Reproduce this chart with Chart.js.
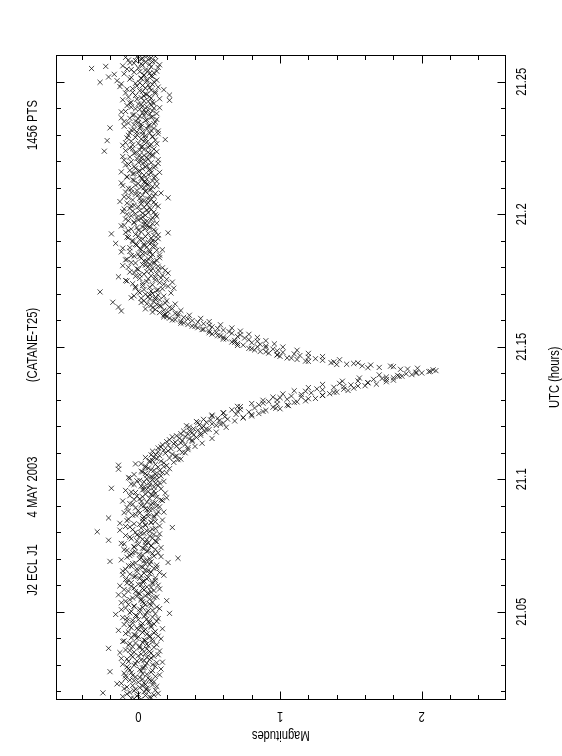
<!DOCTYPE html>
<html>
<head>
<meta charset="utf-8">
<script src="https://cdn.jsdelivr.net/npm/chart.js@4/dist/chart.umd.min.js"></script>
<style>
  html, body { margin: 0; padding: 0; background: #fff; }
  #wrap { width: 562px; height: 756px; }
</style>
</head>
<body>
<div id="wrap"><canvas id="lc" width="562" height="756"></canvas></div>
<script>
// light curve, plotted page-rotated: magnitude runs left->right, UTC runs bottom->top
const titleParts = ['J2 ECL J1', '4 MAY 2003', '(CATANE-T25)', '1456 PTS'];
const utcAxisTitle = 'UTC (hours)';
const magAxisTitle = 'Magnitudes';

const utcMajor = [21.05, 21.1, 21.15, 21.2, 21.25];
const utcLabels = ['21.05', '21.1', '21.15', '21.2', '21.25'];
const utcMinor = [21.02, 21.03, 21.04, 21.06, 21.07, 21.08, 21.09, 21.11, 21.12, 21.13,
                  21.14, 21.16, 21.17, 21.18, 21.19, 21.21, 21.22, 21.23, 21.24, 21.26];
const magMajor = [0, 1, 2];
const magLabels = ['0', '1', '2'];
const magMinor = [-0.4, -0.2, 0.2, 0.4, 0.6, 0.8, 1.2, 1.4, 1.6, 1.8, 2.2, 2.4];

const UTC_MIN = 21.0169, UTC_MAX = 21.2601;
const MAG_MIN = -0.581, MAG_MAX = 2.591;

// out of eclipse, before
const utcPre = [
  21.0170, 21.0174, 21.0178, 21.0182, 21.0186, 21.0190, 21.0194, 21.0198, 21.0202, 21.0206,
  21.0210, 21.0214, 21.0218, 21.0222, 21.0226, 21.0230, 21.0234, 21.0238, 21.0242, 21.0246,
  21.0250, 21.0254, 21.0258, 21.0262, 21.0266, 21.0270, 21.0274, 21.0278, 21.0282, 21.0286,
  21.0290, 21.0294, 21.0298, 21.0302, 21.0306, 21.0310, 21.0314, 21.0318, 21.0322, 21.0326,
  21.0330, 21.0334, 21.0338, 21.0342, 21.0346, 21.0350, 21.0354, 21.0358, 21.0362, 21.0366,
  21.0370, 21.0374, 21.0378, 21.0382, 21.0386, 21.0390, 21.0394, 21.0398, 21.0402, 21.0406,
  21.0410, 21.0414, 21.0418, 21.0422, 21.0426, 21.0430, 21.0434, 21.0438, 21.0442, 21.0446,
  21.0450, 21.0454, 21.0458, 21.0462, 21.0466, 21.0470, 21.0474, 21.0478, 21.0482, 21.0486,
  21.0490, 21.0494, 21.0498, 21.0502, 21.0506, 21.0510, 21.0514, 21.0518, 21.0522, 21.0526,
  21.0530, 21.0534, 21.0538, 21.0542, 21.0546, 21.0550, 21.0554, 21.0558, 21.0562, 21.0566,
  21.0570, 21.0574, 21.0578, 21.0582, 21.0586, 21.0590, 21.0594, 21.0598, 21.0602, 21.0606,
  21.0610, 21.0614, 21.0618, 21.0622, 21.0626, 21.0630, 21.0634, 21.0638, 21.0642, 21.0646,
  21.0650, 21.0654, 21.0658, 21.0662, 21.0666, 21.0670, 21.0674, 21.0678, 21.0682, 21.0686,
  21.0690, 21.0694, 21.0698, 21.0702, 21.0706, 21.0710, 21.0714, 21.0718, 21.0722, 21.0726,
  21.0730, 21.0734, 21.0738, 21.0742, 21.0746, 21.0750, 21.0754, 21.0758, 21.0762, 21.0766,
  21.0770, 21.0774, 21.0778, 21.0782, 21.0786, 21.0790, 21.0794, 21.0798, 21.0802, 21.0806,
  21.0810, 21.0814, 21.0818, 21.0822, 21.0826, 21.0830, 21.0834, 21.0838, 21.0842, 21.0846,
  21.0850, 21.0854, 21.0858, 21.0862, 21.0866, 21.0870, 21.0874, 21.0878, 21.0882, 21.0886,
  21.0890, 21.0894, 21.0898, 21.0902, 21.0906, 21.0910, 21.0914, 21.0918, 21.0922, 21.0926,
  21.0930, 21.0934, 21.0938, 21.0942, 21.0946, 21.0950, 21.0954, 21.0958, 21.0962, 21.0966,
  21.0970, 21.0974, 21.0978, 21.0982, 21.0986, 21.0990, 21.0994, 21.0998, 21.1002, 21.1006,
  21.1010, 21.1014, 21.1018, 21.1022, 21.1026, 21.1030, 21.1034, 21.1038, 21.1042, 21.1046
];
const magPre = [
  0.02, -0.05, 0.08, -0.01, 0.11, -0.08, -0.25, 0.04, -0.03, 0.06,
  -0.10, 0.01, 0.13, -0.04, 0.05, -0.12, 0.00, 0.09, -0.06, 0.03,
  0.07, -0.02, -0.09, 0.15, 0.03, -0.05, -0.20, 0.10, 0.01, -0.07,
  0.04, 0.12, -0.03, -0.11, 0.06, 0.17, -0.01, 0.02, -0.08, 0.09,
  -0.04, 0.00, 0.14, 0.05, -0.13, 0.08, -0.06, 0.03, -0.21, 0.11,
  0.01, -0.07, 0.06, -0.02, 0.10, -0.10, 0.04, 0.16, -0.05, 0.00,
  0.08, -0.03, -0.09, 0.03, 0.12, -0.14, 0.05, -0.01, 0.09, -0.06,
  0.02, 0.11, -0.04, 0.07, -0.08, 0.00, 0.14, -0.11, 0.04, -0.02,
  -0.16, 0.22, 0.06, -0.05, 0.10, 0.01, -0.09, 0.13, -0.03, 0.05,
  0.08, -0.12, 0.03, 0.20, -0.06, 0.02, 0.11, -0.01, -0.10, 0.07,
  0.00, 0.09, -0.07, 0.04, 0.15, -0.03, 0.06, -0.13, 0.02, 0.10,
  -0.05, 0.03, 0.12, -0.09, 0.01, 0.07, -0.02, 0.18, -0.06, 0.04,
  0.09, -0.11, 0.05, -0.01, 0.13, 0.02, -0.07, 0.08, -0.04, 0.21,
  -0.20, 0.06, 0.01, 0.28, -0.08, 0.11, 0.03, -0.05, 0.14, -0.02,
  0.07, -0.10, 0.04, 0.16, -0.03, 0.09, 0.00, -0.12, 0.05, 0.12,
  -0.21, 0.03, 0.10, -0.06, 0.08, -0.01, 0.15, 0.02, -0.29, 0.06,
  -0.04, 0.12, 0.24, -0.09, 0.05, 0.01, -0.13, 0.09, 0.03, 0.17,
  -0.07, -0.21, 0.04, 0.11, -0.02, 0.07, -0.10, 0.14, 0.00, 0.08,
  0.05, -0.08, 0.13, 0.02, -0.04, 0.10, 0.06, -0.11, 0.16, 0.01,
  0.20, 0.03, -0.06, 0.09, 0.12, -0.02, 0.07, -0.09, 0.04, -0.19,
  0.11, 0.02, 0.08, -0.05, 0.15, 0.04, -0.01, 0.10, 0.06, -0.07,
  0.09, 0.13, -0.03, 0.05, 0.17, 0.02, 0.11, -0.14, 0.07, 0.14
];
const utcPre2 = [
  21.0172, 21.0176, 21.0180, 21.0184, 21.0188, 21.0192, 21.0196, 21.0200, 21.0204, 21.0208,
  21.0212, 21.0216, 21.0220, 21.0224, 21.0228, 21.0232, 21.0236, 21.0240, 21.0244, 21.0248,
  21.0252, 21.0256, 21.0260, 21.0264, 21.0268, 21.0272, 21.0276, 21.0280, 21.0284, 21.0288,
  21.0292, 21.0296, 21.0300, 21.0304, 21.0308, 21.0312, 21.0316, 21.0320, 21.0324, 21.0328,
  21.0332, 21.0336, 21.0340, 21.0344, 21.0348, 21.0352, 21.0356, 21.0360, 21.0364, 21.0368,
  21.0372, 21.0376, 21.0380, 21.0384, 21.0388, 21.0392, 21.0396, 21.0400, 21.0404, 21.0408,
  21.0412, 21.0416, 21.0420, 21.0424, 21.0428, 21.0432, 21.0436, 21.0440, 21.0444, 21.0448,
  21.0452, 21.0456, 21.0460, 21.0464, 21.0468, 21.0472, 21.0476, 21.0480, 21.0484, 21.0488,
  21.0492, 21.0496, 21.0500, 21.0504, 21.0508, 21.0512, 21.0516, 21.0520, 21.0524, 21.0528,
  21.0532, 21.0536, 21.0540, 21.0544, 21.0548, 21.0552, 21.0556, 21.0560, 21.0564, 21.0568,
  21.0572, 21.0576, 21.0580, 21.0584, 21.0588, 21.0592, 21.0596, 21.0600, 21.0604, 21.0608,
  21.0612, 21.0616, 21.0620, 21.0624, 21.0628, 21.0632, 21.0636, 21.0640, 21.0644, 21.0648,
  21.0652, 21.0656, 21.0660, 21.0664, 21.0668, 21.0672, 21.0676, 21.0680, 21.0684, 21.0688,
  21.0692, 21.0696, 21.0700, 21.0704, 21.0708, 21.0712, 21.0716, 21.0720, 21.0724, 21.0728,
  21.0732, 21.0736, 21.0740, 21.0744, 21.0748, 21.0752, 21.0756, 21.0760, 21.0764, 21.0768,
  21.0772, 21.0776, 21.0780, 21.0784, 21.0788, 21.0792, 21.0796, 21.0800, 21.0804, 21.0808,
  21.0812, 21.0816, 21.0820, 21.0824, 21.0828, 21.0832, 21.0836, 21.0840, 21.0844, 21.0848,
  21.0852, 21.0856, 21.0860, 21.0864, 21.0868, 21.0872, 21.0876, 21.0880, 21.0884, 21.0888,
  21.0892, 21.0896, 21.0900, 21.0904, 21.0908, 21.0912, 21.0916, 21.0920, 21.0924, 21.0928,
  21.0932, 21.0936, 21.0940, 21.0944, 21.0948, 21.0952, 21.0956, 21.0960, 21.0964, 21.0968,
  21.0972, 21.0976, 21.0980, 21.0984, 21.0988, 21.0992, 21.0996, 21.1000, 21.1004, 21.1008,
  21.1012, 21.1016, 21.1020, 21.1024, 21.1028, 21.1032, 21.1036, 21.1040, 21.1044, 21.1048
];
const magPre2 = [
  -0.03, 0.09, -0.11, 0.05, 0.00, 0.14, -0.06, 0.07, 0.12, -0.02,
  0.06, -0.08, 0.03, 0.10, -0.15, 0.04, 0.11, -0.03, 0.08, -0.09,
  0.01, 0.12, -0.04, 0.06, -0.10, 0.09, 0.02, -0.06, 0.16, 0.03,
  -0.08, 0.05, 0.10, -0.02, 0.13, -0.07, 0.04, 0.08, -0.12, 0.06,
  0.11, -0.05, 0.02, 0.09, -0.03, 0.15, -0.09, 0.06, 0.01, -0.04,
  0.07, 0.13, -0.06, 0.03, -0.11, 0.05, 0.10, -0.01, 0.08, 0.14,
  -0.02, 0.06, 0.11, -0.07, 0.04, 0.00, 0.17, -0.05, 0.02, 0.09,
  -0.10, 0.03, 0.08, 0.13, -0.04, 0.06, -0.08, 0.10, -0.01, 0.05,
  0.12, -0.06, 0.01, 0.07, -0.12, 0.15, 0.03, -0.03, 0.09, -0.07,
  0.04, 0.10, -0.09, 0.02, 0.08, -0.04, 0.13, 0.05, -0.14, 0.01,
  0.07, -0.02, 0.11, -0.10, 0.03, 0.09, -0.05, 0.14, 0.00, -0.08,
  0.10, 0.04, -0.07, 0.06, 0.12, -0.03, 0.02, -0.11, 0.08, 0.15,
  -0.01, 0.07, -0.09, 0.11, 0.03, -0.05, 0.13, 0.05, -0.02, 0.09,
  0.04, -0.12, 0.08, 0.02, 0.16, -0.06, 0.01, 0.10, -0.04, 0.06,
  -0.08, 0.12, 0.03, -0.03, 0.09, 0.05, -0.10, 0.07, 0.13, -0.01,
  0.06, -0.05, 0.14, 0.01, -0.09, 0.11, 0.04, -0.02, 0.08, -0.13,
  0.10, 0.02, -0.06, 0.15, 0.05, -0.03, 0.09, 0.12, -0.08, 0.04,
  0.03, 0.11, 0.07, -0.04, 0.13, 0.01, 0.18, -0.07, 0.06, 0.10,
  -0.02, 0.15, 0.04, 0.09, -0.06, 0.12, 0.02, 0.17, -0.03, 0.08,
  0.13, -0.01, 0.10, 0.05, 0.19, -0.05, 0.11, 0.03, 0.16, 0.07,
  0.04, 0.14, -0.03, 0.12, 0.08, 0.18, 0.01, 0.13, -0.06, 0.10,
  0.16, 0.06, 0.12, 0.20, 0.03, 0.15, 0.09, 0.22, 0.05, 0.18
];

// ingress
const utcIngress = [
  21.1050, 21.1053, 21.1056, 21.1059, 21.1062, 21.1065, 21.1068, 21.1071, 21.1074, 21.1077,
  21.1080, 21.1083, 21.1086, 21.1089, 21.1092, 21.1095, 21.1098, 21.1101, 21.1104, 21.1107,
  21.1110, 21.1113, 21.1116, 21.1119, 21.1122, 21.1125, 21.1128, 21.1131, 21.1134, 21.1137,
  21.1140, 21.1143, 21.1146, 21.1149, 21.1152, 21.1155, 21.1158, 21.1161, 21.1164, 21.1167,
  21.1170, 21.1173, 21.1176, 21.1179, 21.1182, 21.1185, 21.1188, 21.1191, 21.1194, 21.1197,
  21.1200, 21.1203, 21.1206, 21.1209, 21.1212, 21.1215, 21.1218, 21.1221, 21.1224, 21.1227,
  21.1230, 21.1233, 21.1236, 21.1239, 21.1242, 21.1245, 21.1248, 21.1251, 21.1254, 21.1257,
  21.1260, 21.1263, 21.1266, 21.1269, 21.1272, 21.1275, 21.1278, 21.1281, 21.1284, 21.1287,
  21.1290, 21.1293, 21.1296, 21.1299, 21.1302, 21.1305, 21.1308, 21.1311, 21.1314, 21.1317,
  21.1320, 21.1323, 21.1326, 21.1329, 21.1332, 21.1335, 21.1338, 21.1341, 21.1344, 21.1347,
  21.1350, 21.1353, 21.1356, 21.1359, 21.1362, 21.1365, 21.1368, 21.1371, 21.1374, 21.1377,
  21.1380, 21.1383, 21.1386, 21.1389, 21.1392, 21.1395, 21.1398, 21.1401, 21.1404, 21.1407,
  21.1410
];
const magIngress = [
  0.05, -0.14, 0.12, 0.02, 0.18, 0.08, 0.16, 0.10, 0.28, 0.13,
  0.22, 0.11, 0.26, 0.15, 0.09, 0.24, 0.19, 0.31, 0.14, 0.21,
  0.18, 0.29, 0.23, 0.35, 0.16, 0.27, 0.21, 0.33, 0.25, 0.30,
  0.26, 0.38, 0.31, 0.22, 0.36, 0.29, 0.41, 0.33, 0.27, 0.39,
  0.35, 0.44, 0.38, 0.47, 0.32, 0.42, 0.50, 0.39, 0.45, 0.36,
  0.46, 0.55, 0.43, 0.52, 0.60, 0.48, 0.41, 0.57, 0.51, 0.63,
  0.56, 0.74, 0.61, 0.80, 0.52, 0.69, 0.85, 0.60, 0.78, 0.70,
  0.90, 0.72, 1.00, 0.82, 0.95, 0.70, 1.06, 0.85, 0.98, 0.88,
  1.10, 0.92, 1.18, 0.98, 1.05, 1.25, 1.00, 1.15, 1.08, 1.30,
  1.15, 1.35, 1.22, 1.40, 1.18, 1.48, 1.30, 1.26, 1.52, 1.38,
  1.45, 1.60, 1.50, 1.68, 1.42, 1.62, 1.75, 1.55, 1.80, 1.66,
  1.72, 1.80, 1.75, 1.86, 1.83, 1.93, 1.89, 2.00, 1.96, 2.06,
  2.10
];
const utcIngress2 = [
  21.1052, 21.1058, 21.1064, 21.1070, 21.1076, 21.1082, 21.1088, 21.1094, 21.1100, 21.1106,
  21.1112, 21.1118, 21.1124, 21.1130, 21.1136, 21.1142, 21.1148, 21.1154, 21.1160, 21.1166,
  21.1172, 21.1178, 21.1184, 21.1190, 21.1196, 21.1202, 21.1208, 21.1214, 21.1220, 21.1226,
  21.1232, 21.1238, 21.1244, 21.1250, 21.1256, 21.1262, 21.1268, 21.1274, 21.1280, 21.1286,
  21.1292, 21.1298, 21.1304, 21.1310, 21.1316, 21.1322, 21.1328, 21.1334, 21.1340, 21.1346,
  21.1352, 21.1358, 21.1364, 21.1370, 21.1376, 21.1382, 21.1388, 21.1394, 21.1400, 21.1406
];
const magIngress2 = [
  0.20, -0.02, 0.25, 0.08, 0.30, 0.05, 0.27, 0.12, 0.33, 0.10,
  0.35, 0.14, 0.40, 0.17, 0.45, 0.20, 0.38, 0.52, 0.24, 0.44,
  0.30, 0.55, 0.36, 0.48, 0.62, 0.34, 0.58, 0.42, 0.68, 0.46,
  0.74, 0.52, 0.80, 0.60, 0.88, 0.66, 0.97, 0.72, 1.05, 0.80,
  1.12, 0.88, 1.20, 0.95, 1.30, 1.02, 1.38, 1.10, 1.45, 1.20,
  1.55, 1.30, 1.62, 1.44, 1.75, 1.56, 1.84, 1.70, 1.96, 2.05
];

// egress
const utcEgress = [
  21.1413, 21.1416, 21.1419, 21.1422, 21.1425, 21.1428, 21.1431, 21.1434, 21.1437, 21.1440,
  21.1443, 21.1446, 21.1449, 21.1452, 21.1455, 21.1458, 21.1461, 21.1464, 21.1467, 21.1470,
  21.1473, 21.1476, 21.1479, 21.1482, 21.1485, 21.1488, 21.1491, 21.1494, 21.1497, 21.1500,
  21.1503, 21.1506, 21.1509, 21.1512, 21.1515, 21.1518, 21.1521, 21.1524, 21.1527, 21.1530,
  21.1533, 21.1536, 21.1539, 21.1542, 21.1545, 21.1548, 21.1551, 21.1554, 21.1557, 21.1560,
  21.1563, 21.1566, 21.1569, 21.1572, 21.1575, 21.1578, 21.1581, 21.1584, 21.1587, 21.1590,
  21.1593, 21.1596, 21.1599, 21.1602, 21.1605, 21.1608, 21.1611, 21.1614, 21.1617, 21.1620,
  21.1623, 21.1626, 21.1629, 21.1632, 21.1635, 21.1638, 21.1641, 21.1644, 21.1647, 21.1650,
  21.1653, 21.1656, 21.1659, 21.1662, 21.1665, 21.1668, 21.1671, 21.1674, 21.1677, 21.1680,
  21.1683, 21.1686, 21.1689, 21.1692, 21.1695, 21.1698, 21.1701, 21.1704, 21.1707, 21.1710,
  21.1713, 21.1716, 21.1719, 21.1722, 21.1725, 21.1728, 21.1731
];
const magEgress = [
  2.08, 1.90, 1.97, 1.70, 1.80, 1.58, 1.64, 1.47, 1.52, 1.36,
  1.38, 1.18, 1.30, 1.12, 1.25, 1.05, 1.20, 1.00, 1.14, 0.98,
  1.10, 0.92, 1.02, 0.86, 0.98, 0.82, 0.95, 0.78, 0.90, 0.84,
  0.90, 0.74, 0.86, 0.70, 0.80, 0.66, 0.84, 0.68, 0.78, 0.62,
  0.75, 0.60, 0.70, 0.56, 0.72, 0.52, 0.66, 0.55, 0.64, 0.50,
  0.60, 0.46, 0.56, 0.42, 0.52, 0.38, 0.50, 0.35, 0.46, 0.32,
  0.42, 0.30, 0.38, 0.26, 0.35, 0.22, 0.32, 0.20, 0.28, 0.18,
  0.19, 0.26, 0.15, 0.21, -0.12, 0.18, 0.12, 0.24, 0.10, -0.14,
  0.16, 0.09, 0.13, 0.06, 0.19, -0.18, 0.11, 0.04, 0.15, 0.08,
  0.02, 0.12, 0.07, -0.03, 0.14, 0.05, 0.10, 0.01, -0.27, 0.09,
  0.13, 0.04, 0.17, -0.02, 0.08, 0.21, 0.03
];
const utcEgress2 = [
  21.1415, 21.1421, 21.1427, 21.1433, 21.1439, 21.1445, 21.1451, 21.1457, 21.1463, 21.1469,
  21.1475, 21.1481, 21.1487, 21.1493, 21.1499, 21.1505, 21.1511, 21.1517, 21.1523, 21.1529,
  21.1535, 21.1541, 21.1547, 21.1553, 21.1559, 21.1565, 21.1571, 21.1577, 21.1583, 21.1589,
  21.1595, 21.1601, 21.1607, 21.1613, 21.1619, 21.1625, 21.1631, 21.1637, 21.1643, 21.1649,
  21.1655, 21.1661, 21.1667, 21.1673, 21.1679, 21.1685, 21.1691, 21.1697, 21.1703, 21.1709,
  21.1715, 21.1721, 21.1727
];
const magEgress2 = [
  1.85, 1.62, 1.78, 1.40, 1.55, 1.20, 1.42, 1.08, 1.30, 0.98,
  1.20, 0.90, 1.12, 0.80, 1.02, 0.70, 0.96, 0.68, 0.90, 0.60,
  0.84, 0.58, 0.78, 0.50, 0.72, 0.45, 0.66, 0.40, 0.58, 0.30,
  0.50, 0.24, 0.44, 0.18, 0.36, 0.28, 0.10, 0.30, 0.05, 0.22,
  0.15, 0.26, 0.02, 0.20, 0.12, -0.05, 0.18, 0.08, 0.23, 0.00,
  0.14, 0.25, -0.02
];

// out of eclipse, after
const utcPost = [
  21.1734, 21.1738, 21.1742, 21.1746, 21.1750, 21.1754, 21.1758, 21.1762, 21.1766, 21.1770,
  21.1774, 21.1778, 21.1782, 21.1786, 21.1790, 21.1794, 21.1798, 21.1802, 21.1806, 21.1810,
  21.1814, 21.1818, 21.1822, 21.1826, 21.1830, 21.1834, 21.1838, 21.1842, 21.1846, 21.1850,
  21.1854, 21.1858, 21.1862, 21.1866, 21.1870, 21.1874, 21.1878, 21.1882, 21.1886, 21.1890,
  21.1894, 21.1898, 21.1902, 21.1906, 21.1910, 21.1914, 21.1918, 21.1922, 21.1926, 21.1930,
  21.1934, 21.1938, 21.1942, 21.1946, 21.1950, 21.1954, 21.1958, 21.1962, 21.1966, 21.1970,
  21.1974, 21.1978, 21.1982, 21.1986, 21.1990, 21.1994, 21.1998, 21.2002, 21.2006, 21.2010,
  21.2014, 21.2018, 21.2022, 21.2026, 21.2030, 21.2034, 21.2038, 21.2042, 21.2046, 21.2050,
  21.2054, 21.2058, 21.2062, 21.2066, 21.2070, 21.2074, 21.2078, 21.2082, 21.2086, 21.2090,
  21.2094, 21.2098, 21.2102, 21.2106, 21.2110, 21.2114, 21.2118, 21.2122, 21.2126, 21.2130,
  21.2134, 21.2138, 21.2142, 21.2146, 21.2150, 21.2154, 21.2158, 21.2162, 21.2166, 21.2170,
  21.2174, 21.2178, 21.2182, 21.2186, 21.2190, 21.2194, 21.2198, 21.2202, 21.2206, 21.2210,
  21.2214, 21.2218, 21.2222, 21.2226, 21.2230, 21.2234, 21.2238, 21.2242, 21.2246, 21.2250,
  21.2254, 21.2258, 21.2262, 21.2266, 21.2270, 21.2274, 21.2278, 21.2282, 21.2286, 21.2290,
  21.2294, 21.2298, 21.2302, 21.2306, 21.2310, 21.2314, 21.2318, 21.2322, 21.2326, 21.2330,
  21.2334, 21.2338, 21.2342, 21.2346, 21.2350, 21.2354, 21.2358, 21.2362, 21.2366, 21.2370,
  21.2374, 21.2378, 21.2382, 21.2386, 21.2390, 21.2394, 21.2398, 21.2402, 21.2406, 21.2410,
  21.2414, 21.2418, 21.2422, 21.2426, 21.2430, 21.2434, 21.2438, 21.2442, 21.2446, 21.2450,
  21.2454, 21.2458, 21.2462, 21.2466, 21.2470, 21.2474, 21.2478, 21.2482, 21.2486, 21.2490,
  21.2494, 21.2498, 21.2502, 21.2506, 21.2510, 21.2514, 21.2518, 21.2522, 21.2526, 21.2530,
  21.2534, 21.2538, 21.2542, 21.2546, 21.2550, 21.2554, 21.2558, 21.2562, 21.2566, 21.2570,
  21.2574, 21.2578, 21.2582, 21.2586, 21.2590, 21.2594, 21.2598
];
const magPost = [
  0.10, -0.04, 0.15, 0.06, -0.09, 0.20, 0.01, 0.12, -0.02, 0.17,
  0.04, 0.21, -0.06, 0.09, 0.14, -0.01, 0.17, 0.07, -0.11, 0.03,
  0.11, -0.05, 0.06, 0.13, -0.08, 0.02, 0.09, -0.03, 0.15, 0.00,
  0.05, -0.12, 0.08, 0.17, 0.01, -0.06, 0.10, 0.04, -0.02, -0.16,
  0.07, 0.12, -0.04, 0.03, 0.09, -0.08, 0.00, 0.14, -0.19, 0.21,
  0.02, -0.07, 0.11, 0.05, -0.01, 0.08, -0.10, 0.04, 0.13, -0.03,
  0.06, 0.00, -0.09, 0.10, 0.03, -0.05, 0.12, -0.02, 0.07, -0.11,
  0.01, 0.09, -0.06, 0.04, 0.14, -0.03, 0.06, -0.08, 0.11, 0.02,
  -0.04, 0.07, 0.21, -0.10, 0.08, 0.00, 0.12, -0.05, 0.05, -0.01,
  0.09, -0.07, 0.02, 0.13, -0.02, 0.06, -0.12, 0.04, 0.10, -0.04,
  0.03, 0.11, -0.08, 0.01, 0.07, -0.03, 0.15, 0.00, -0.06, 0.08,
  -0.02, 0.05, 0.12, -0.09, 0.03, 0.09, -0.05, 0.02, 0.14, -0.01,
  0.06, -0.11, 0.04, 0.10, -0.03, 0.07, -0.24, 0.01, 0.11, -0.06,
  0.02, 0.08, -0.04, 0.13, -0.09, 0.04, -0.22, 0.19, 0.05, -0.02,
  0.10, -0.07, 0.03, 0.08, -0.01, 0.14, -0.05, 0.06, -0.20, 0.02,
  0.07, -0.03, 0.11, 0.00, -0.10, 0.05, 0.13, -0.06, 0.09, 0.01,
  -0.04, 0.08, 0.03, -0.12, 0.10, 0.04, -0.02, 0.15, 0.06, -0.08,
  0.02, 0.11, -0.05, 0.07, 0.22, -0.01, 0.09, -0.07, 0.04, 0.22,
  0.05, -0.09, 0.12, 0.01, 0.18, -0.04, 0.08, -0.13, 0.03, 0.10,
  -0.02, -0.27, 0.06, 0.13, -0.06, 0.02, -0.21, 0.09, 0.04, -0.10,
  0.11, 0.01, 0.07, -0.05, -0.33, 0.14, -0.23, 0.03, 0.08, -0.03,
  0.05, 0.12, -0.07, 0.02, 0.09, -0.01, 0.06
];
const utcPost2 = [
  21.1736, 21.1740, 21.1744, 21.1748, 21.1752, 21.1756, 21.1760, 21.1764, 21.1768, 21.1772,
  21.1776, 21.1780, 21.1784, 21.1788, 21.1792, 21.1796, 21.1800, 21.1804, 21.1808, 21.1812,
  21.1816, 21.1820, 21.1824, 21.1828, 21.1832, 21.1836, 21.1840, 21.1844, 21.1848, 21.1852,
  21.1856, 21.1860, 21.1864, 21.1868, 21.1872, 21.1876, 21.1880, 21.1884, 21.1888, 21.1892,
  21.1896, 21.1900, 21.1904, 21.1908, 21.1912, 21.1916, 21.1920, 21.1924, 21.1928, 21.1932,
  21.1936, 21.1940, 21.1944, 21.1948, 21.1952, 21.1956, 21.1960, 21.1964, 21.1968, 21.1972,
  21.1976, 21.1980, 21.1984, 21.1988, 21.1992, 21.1996, 21.2000, 21.2004, 21.2008, 21.2012,
  21.2016, 21.2020, 21.2024, 21.2028, 21.2032, 21.2036, 21.2040, 21.2044, 21.2048, 21.2052,
  21.2056, 21.2060, 21.2064, 21.2068, 21.2072, 21.2076, 21.2080, 21.2084, 21.2088, 21.2092,
  21.2096, 21.2100, 21.2104, 21.2108, 21.2112, 21.2116, 21.2120, 21.2124, 21.2128, 21.2132,
  21.2136, 21.2140, 21.2144, 21.2148, 21.2152, 21.2156, 21.2160, 21.2164, 21.2168, 21.2172,
  21.2176, 21.2180, 21.2184, 21.2188, 21.2192, 21.2196, 21.2200, 21.2204, 21.2208, 21.2212,
  21.2216, 21.2220, 21.2224, 21.2228, 21.2232, 21.2236, 21.2240, 21.2244, 21.2248, 21.2252,
  21.2256, 21.2260, 21.2264, 21.2268, 21.2272, 21.2276, 21.2280, 21.2284, 21.2288, 21.2292,
  21.2296, 21.2300, 21.2304, 21.2308, 21.2312, 21.2316, 21.2320, 21.2324, 21.2328, 21.2332,
  21.2336, 21.2340, 21.2344, 21.2348, 21.2352, 21.2356, 21.2360, 21.2364, 21.2368, 21.2372,
  21.2376, 21.2380, 21.2384, 21.2388, 21.2392, 21.2396, 21.2400, 21.2404, 21.2408, 21.2412,
  21.2416, 21.2420, 21.2424, 21.2428, 21.2432, 21.2436, 21.2440, 21.2444, 21.2448, 21.2452,
  21.2456, 21.2460, 21.2464, 21.2468, 21.2472, 21.2476, 21.2480, 21.2484, 21.2488, 21.2492,
  21.2496, 21.2500, 21.2504, 21.2508, 21.2512, 21.2516, 21.2520, 21.2524, 21.2528, 21.2532,
  21.2536, 21.2540, 21.2544, 21.2548, 21.2552, 21.2556, 21.2560, 21.2564, 21.2568, 21.2572,
  21.2576, 21.2580, 21.2584, 21.2588, 21.2592, 21.2596
];
const magPost2 = [
  0.18, 0.03, 0.24, -0.08, 0.12, 0.07, 0.16, -0.14, 0.09, 0.01,
  0.13, -0.03, 0.06, 0.19, 0.00, 0.10, -0.07, 0.14, 0.05, 0.08,
  -0.02, 0.11, 0.04, -0.09, 0.07, 0.15, 0.01, -0.05, 0.10, 0.03,
  0.08, -0.06, 0.13, 0.02, -0.11, 0.06, 0.12, -0.01, 0.04, 0.09,
  -0.04, 0.10, 0.01, 0.14, -0.07, 0.05, 0.11, -0.02, 0.07, -0.09,
  0.12, 0.00, -0.05, 0.08, 0.03, -0.12, 0.06, 0.10, -0.03, 0.04,
  -0.07, 0.09, 0.02, -0.01, 0.13, 0.05, -0.08, 0.03, 0.11, -0.04,
  0.06, -0.10, 0.08, 0.00, -0.05, 0.12, 0.02, 0.07, -0.13, 0.04,
  0.09, 0.01, -0.07, 0.11, 0.03, -0.02, 0.16, -0.09, 0.05, 0.08,
  -0.05, 0.04, 0.10, -0.11, 0.07, 0.00, 0.05, 0.13, -0.03, 0.06,
  0.02, -0.08, 0.12, 0.04, -0.04, 0.09, -0.12, 0.01, 0.08, 0.03,
  0.11, -0.03, 0.06, -0.07, 0.14, 0.00, 0.05, -0.10, 0.07, 0.02,
  -0.06, 0.10, 0.01, 0.08, -0.02, 0.13, -0.09, 0.04, -0.04, 0.07,
  0.03, -0.11, 0.09, 0.00, 0.06, -0.05, 0.12, 0.02, -0.08, 0.10,
  0.05, -0.01, 0.14, -0.06, 0.03, 0.09, -0.03, 0.11, 0.01, -0.10,
  0.08, 0.02, -0.07, 0.12, -0.02, 0.06, 0.00, -0.12, 0.10, 0.04,
  -0.03, 0.13, 0.05, -0.09, 0.07, 0.01, 0.11, -0.05, 0.03, 0.09,
  0.00, -0.06, 0.10, 0.04, -0.11, 0.15, 0.02, 0.08, -0.02, 0.06,
  0.12, -0.04, 0.03, 0.09, -0.08, 0.05, 0.14, -0.01, 0.07, -0.12,
  0.01, 0.11, -0.15, 0.06, 0.02, -0.05, 0.10, 0.04, -0.17, 0.08,
  -0.03, 0.13, 0.05, -0.08, 0.00, 0.09, -0.11, 0.15, 0.02, -0.06,
  0.10, -0.02, 0.07, 0.03, -0.09, 0.12
];

const utcAll = [...utcPre, ...utcPre2, ...utcIngress, ...utcIngress2,
                ...utcEgress, ...utcEgress2, ...utcPost, ...utcPost2];
const magAll = [...magPre, ...magPre2, ...magIngress, ...magIngress2,
                ...magEgress, ...magEgress2, ...magPost, ...magPost2];
const points = utcAll.map((t, i) => ({ x: magAll[i], y: t }));

const FONT = '14px "Liberation Sans", Arial, sans-serif';
const SQUEEZE = 0.8;

function rotText(ctx, text, x, y, angle) {
  ctx.save();
  ctx.translate(x, y);
  ctx.rotate(angle);
  ctx.scale(SQUEEZE, 1);
  ctx.fillText(text, 0, 0);
  ctx.restore();
}

// PGPLOT style box: frame, inward ticks on all four sides, rotated labels
const boxPlugin = {
  id: 'pgbox',
  afterDraw(chart) {
    const { ctx, chartArea: a } = chart;
    const xs = chart.scales.x, ys = chart.scales.y;
    const L = Math.round(a.left) + 0.5, R = Math.round(a.right) - 0.5;
    const T = Math.round(a.top) + 0.5, B = Math.round(a.bottom) - 0.5;

    ctx.save();
    ctx.strokeStyle = '#000';
    ctx.lineWidth = 1;
    ctx.strokeRect(L, T, R - L, B - T);

    ctx.beginPath();
    const magTick = (v, len) => {
      const px = Math.round(xs.getPixelForValue(v)) + 0.5;
      ctx.moveTo(px, B); ctx.lineTo(px, B - len);
      ctx.moveTo(px, T); ctx.lineTo(px, T + len);
    };
    const utcTick = (v, len) => {
      const py = Math.round(ys.getPixelForValue(v)) + 0.5;
      ctx.moveTo(L, py); ctx.lineTo(L + len, py);
      ctx.moveTo(R, py); ctx.lineTo(R - len, py);
    };
    magMinor.forEach(v => magTick(v, 4.5));
    magMajor.forEach(v => magTick(v, 8));
    utcMinor.forEach(v => utcTick(v, 4.5));
    utcMajor.forEach(v => utcTick(v, 8));
    ctx.stroke();

    ctx.fillStyle = '#000';
    ctx.font = FONT;
    ctx.textAlign = 'center';
    ctx.textBaseline = 'middle';

    utcMajor.forEach((v, i) => {
      rotText(ctx, utcLabels[i], 522, ys.getPixelForValue(v), -Math.PI / 2);
    });
    magMajor.forEach((v, i) => {
      rotText(ctx, magLabels[i], xs.getPixelForValue(v), 716, Math.PI);
    });
    rotText(ctx, utcAxisTitle, 555, (a.top + a.bottom) / 2, -Math.PI / 2);
    rotText(ctx, magAxisTitle, (a.left + a.right) / 2, 735, Math.PI);

    const titleY = [570, 487, 345, 125];
    titleParts.forEach((s, i) => rotText(ctx, s, 33, titleY[i], -Math.PI / 2));
    ctx.restore();
  }
};

new Chart(document.getElementById('lc'), {
  type: 'scatter',
  data: {
    datasets: [{
      data:        points,
      pointStyle:  'crossRot',
      pointRadius: 3.6,
      borderColor: 'rgba(0, 0, 0, 0.72)',
      borderWidth: 1,
      clip:        0,
    }],
  },
  options: {
    responsive:       false,
    animation:        false,
    devicePixelRatio: 1,
    events:           [],
    layout: { padding: { left: 56, right: 56.5, top: 55, bottom: 56.5 } },
    plugins: {
      legend:  { display: false },
      tooltip: { enabled: false },
    },
    scales: {
      x: { type: 'linear', min: MAG_MIN, max: MAG_MAX, display: false },
      y: { type: 'linear', min: UTC_MIN, max: UTC_MAX, display: false },
    },
  },
  plugins: [boxPlugin],
});
</script>
</body>
</html>
